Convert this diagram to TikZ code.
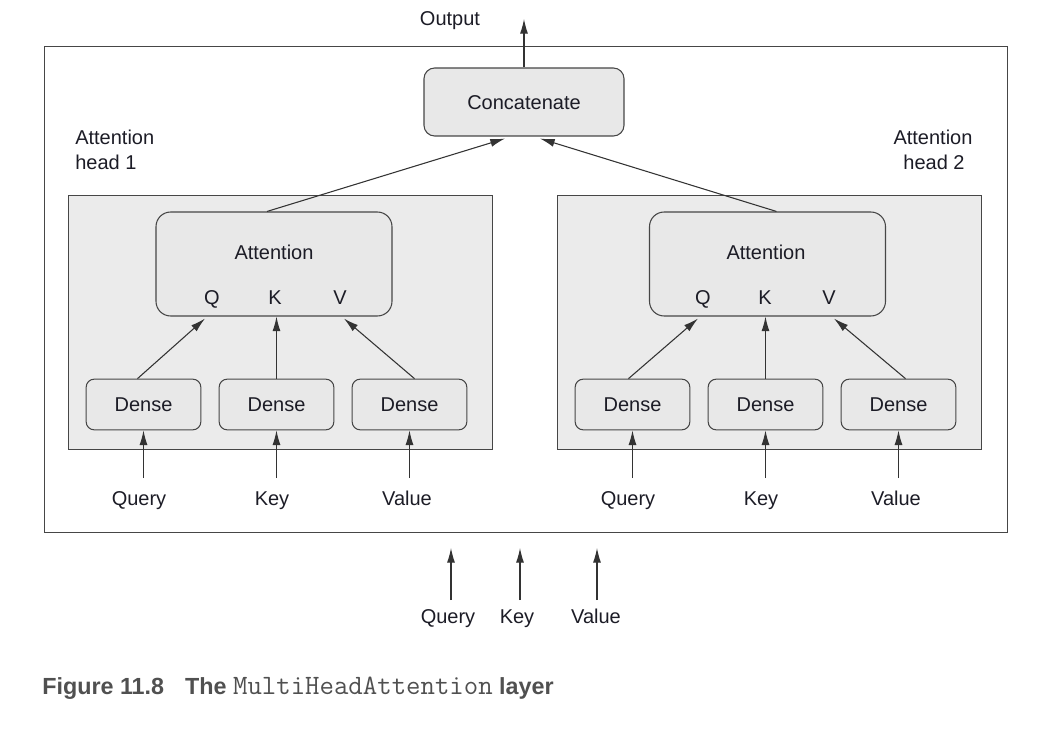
\documentclass[tikz,border=0pt]{standalone}
\usepackage{fontspec}
\setmainfont{Liberation Sans}
\usetikzlibrary{arrows.meta,calc}
\definecolor{txt}{RGB}{28,28,38}
\definecolor{boxfill}{RGB}{232,232,232}
\definecolor{panelfill}{RGB}{235,235,235}
\definecolor{edge}{RGB}{70,70,70}
\definecolor{cap}{RGB}{80,80,80}
\tikzset{
  x=0.75pt, y=-0.75pt,
  lbl/.style={inner sep=0pt, text depth=0pt, text height=10.8pt, text=txt, font=\fontsize{15}{18}\selectfont},
  densebox/.style={draw=edge, line width=0.8pt, fill=boxfill, rounded corners=6pt, minimum width=86pt, minimum height=38pt, inner sep=0pt, text depth=0pt, text height=10.8pt, text=txt, font=\fontsize{15}{18}\selectfont},
  attbox/.style={draw=edge, line width=0.8pt, fill=boxfill, rounded corners=11pt, minimum width=177pt, minimum height=78pt, inner sep=0pt},
  panel/.style={draw=edge, line width=0.7pt, fill=panelfill, minimum width=318pt, minimum height=190pt, inner sep=0pt},
  arr/.style={draw=black!80, line width=0.8pt, -{Latex[length=11pt,width=6pt]}},
}
\begin{document}
\begin{tikzpicture}
\useasboundingbox (0,0) rectangle (1058,731);
% outer frame
\draw[edge, line width=0.7pt] (44,46) rectangle (1007,532);

% panels
\node[panel] (p1) at (280,322.5) {};
\node[panel] (p2) at (769,322.5) {};

% concatenate
\node[draw=edge, line width=0.8pt, fill=boxfill, rounded corners=8pt, minimum width=150pt, minimum height=51pt, inner sep=0pt, text depth=0pt, text height=10.8pt, text=txt, font=\fontsize{15}{18}\selectfont] (cat) at (524,102) {Concatenate};
\node[lbl] (out) at (450,18) {Output};
\coordinate (outtip) at (cat.north |- 0,19);
\draw[arr] (cat.north) -- (outtip);

% head labels
\node[lbl, anchor=west] (h1a) at (75,137) {Attention};
\node[lbl, anchor=west] (h1b) at (75,162) {head 1};
\node[lbl] (h2a) at (933,137) {Attention};
\node[lbl] (h2b) at (934,162) {head 2};

% head 1
\node[attbox] (att1) at (274,264) {};
\node[lbl] (att1t) at (274,252) {Attention};
\node[lbl] (q1) at (212,297) {Q};
\node[lbl] (k1) at (275,297) {K};
\node[lbl] (v1) at (340,297) {V};
\node[densebox] (d1q) at (143.5,404.5) {Dense};
\node[densebox] (d1k) at (276.5,404.5) {Dense};
\node[densebox] (d1v) at (409.5,404.5) {Dense};
\draw[arr] ($(d1q.north)+(-6,0)$) -- ($(q1 |- att1.south)+(-7,2)$);
\draw[arr] (d1k.north) -- (d1k.north |- att1.south);
\draw[arr] ($(d1v.north)+(5,0)$) -- ($(v1 |- att1.south)+(4,2)$);
\node[lbl] (in1q) at (139,498) {Query};
\node[lbl] (in1k) at (272,498) {Key};
\node[lbl] (in1v) at (407,498) {Value};
\draw[arr] (d1q.south |- 0,478) -- (d1q.south);
\draw[arr] (d1k.south |- 0,478) -- (d1k.south);
\draw[arr] (d1v.south |- 0,478) -- (d1v.south);

% head 2
\node[attbox] (att2) at (767.5,264) {};
\node[lbl] (att2t) at (766,252) {Attention};
\node[lbl] (q2) at (703,297) {Q};
\node[lbl] (k2) at (765,297) {K};
\node[lbl] (v2) at (829,297) {V};
\node[densebox] (d2q) at (632.5,404.5) {Dense};
\node[densebox] (d2k) at (765.5,404.5) {Dense};
\node[densebox] (d2v) at (898.5,404.5) {Dense};
\draw[arr] ($(d2q.north)+(-4,0)$) -- ($(q2 |- att2.south)+(-5,2)$);
\draw[arr] (d2k.north) -- (d2k.north |- att2.south);
\draw[arr] ($(d2v.north)+(7,0)$) -- ($(v2 |- att2.south)+(5,2)$);
\node[lbl] (in2q) at (628,498) {Query};
\node[lbl] (in2k) at (761,498) {Key};
\node[lbl] (in2v) at (896,498) {Value};
\draw[arr] (d2q.south |- 0,478) -- (d2q.south);
\draw[arr] (d2k.south |- 0,478) -- (d2k.south);
\draw[arr] (d2v.south |- 0,478) -- (d2v.south);

% to concatenate
\draw[arr] ($(att1.north)+(-7,0)$) -- ($(cat.south)+(-19,2)$);
\draw[arr] ($(att2.north)+(9,0)$) -- ($(cat.south)+(16,2)$);

% bottom inputs
\node[lbl] (bq) at (448,616) {Query};
\node[lbl] (bk) at (517,616) {Key};
\node[lbl] (bv) at (596,616) {Value};
\coordinate (bqt) at (451,548);
\coordinate (bkt) at (520,548);
\coordinate (bvt) at (597,548);
\draw[arr] (bqt |- 0,600) -- (bqt);
\draw[arr] (bkt |- 0,600) -- (bkt);
\draw[arr] (bvt |- 0,600) -- (bvt);

% caption
\node[anchor=west, inner sep=0pt, text depth=0pt, text=cap, font=\fontsize{17.5}{20}\selectfont\bfseries] (caption) at (42,686) {Figure 11.8\hspace{0.9em}The {\mdseries\ttfamily\fontsize{21}{22}\selectfont MultiHeadAttention} layer};
\end{tikzpicture}
\end{document}
